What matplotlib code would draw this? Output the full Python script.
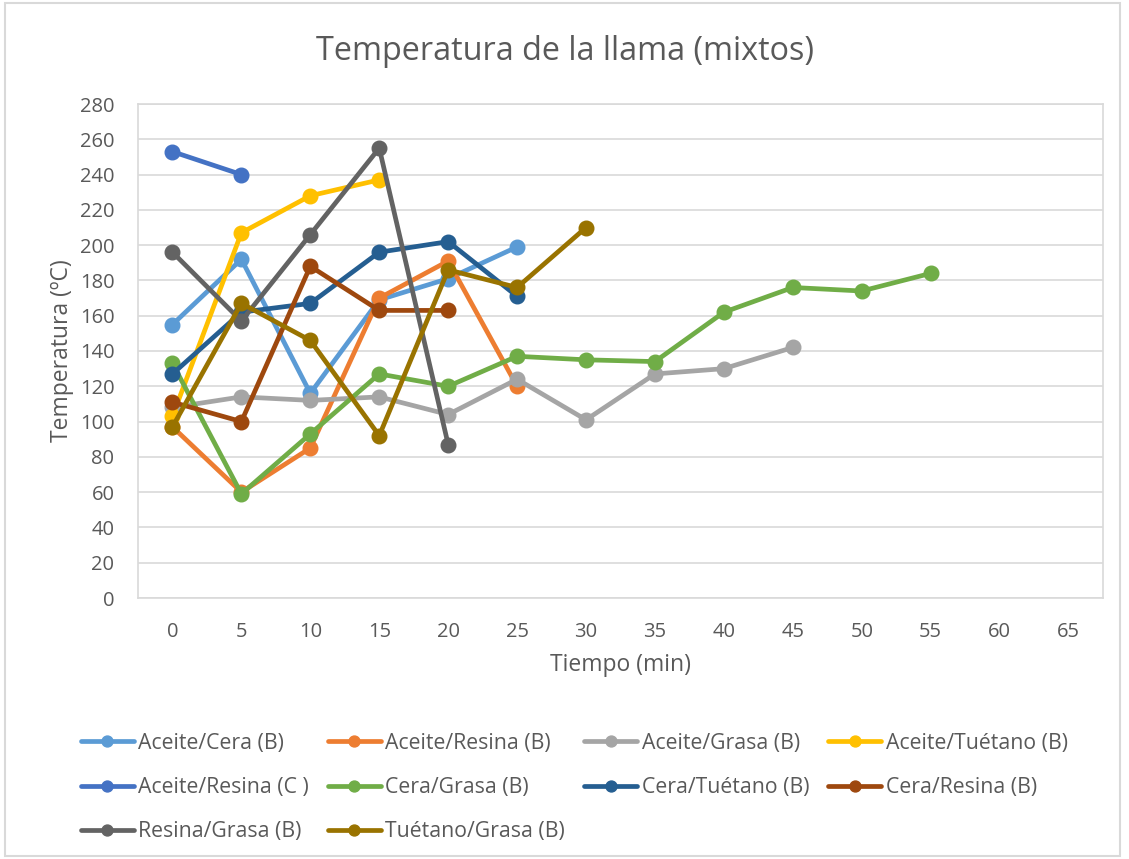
import numpy as np
import matplotlib
matplotlib.use('Agg')
import matplotlib.pyplot as plt
from matplotlib.patches import Rectangle

plt.rcParams['font.family'] = ['Open Sans', 'DejaVu Sans']

tiempo = [0, 5, 10, 15, 20, 25, 30, 35, 40, 45, 50, 55, 60, 65]

aceite_cera = [155, 192, 116, 169, 181, 199]
aceite_resina_b = [97, 60, 85, 170, 191, 120]
aceite_grasa = [108, 114, 112, 114, 104, 124, 101, 127, 130, 142]
aceite_tuetano = [103, 207, 228, 237]
aceite_resina_c = [253, 240]
cera_grasa = [133, 59, 93, 127, 120, 137, 135, 134, 162, 176, 174, 184]
cera_tuetano = [127, 162, 167, 196, 202, 171]
cera_resina = [111, 100, 188, 163, 163]
resina_grasa = [196, 157, 206, 255, 87]
tuetano_grasa = [97, 167, 146, 92, 186, 176, 210]

series = [
    ('Aceite/Cera (B)', aceite_cera, '#5B9BD5'),
    ('Aceite/Resina (B)', aceite_resina_b, '#ED7D31'),
    ('Aceite/Grasa (B)', aceite_grasa, '#A5A5A5'),
    ('Aceite/Tuétano (B)', aceite_tuetano, '#FFC000'),
    ('Aceite/Resina (C )', aceite_resina_c, '#4472C4'),
    ('Cera/Grasa (B)', cera_grasa, '#70AD47'),
    ('Cera/Tuétano (B)', cera_tuetano, '#255E91'),
    ('Cera/Resina (B)', cera_resina, '#9E480E'),
    ('Resina/Grasa (B)', resina_grasa, '#636363'),
    ('Tuétano/Grasa (B)', tuetano_grasa, '#997300'),
]

fig = plt.figure(figsize=(11.29, 8.59), dpi=100)
ax = fig.add_axes([138/1129, 1 - 598/859, (1103-138)/1129, (598-104)/859])

lines = []
for name, vals, col in series:
    l, = ax.plot(tiempo[:len(vals)], vals, color=col, lw=3.4, marker='o', ms=10.5,
                 label=name, solid_capstyle='round')
    lines.append(l)

ax.set_xlim(-2.5, 67.5)
ax.set_ylim(0, 280)
ax.set_yticks(np.arange(0, 281, 20))
ax.set_xticks(tiempo)
ax.grid(axis='y', color='#D9D9D9', lw=1.2)
ax.set_axisbelow(True)
for s in ax.spines.values():
    s.set_color('#D9D9D9')
    s.set_linewidth(1.2)
ax.tick_params(axis='both', length=0, labelsize=14.5, labelcolor='#595959')
ax.tick_params(axis='x', pad=17)
ax.tick_params(axis='y', pad=17)

ax.set_xlabel('Tiempo (min)', fontsize=16.5, color='#595959', labelpad=8)
ax.set_ylabel('Temperatura (ºC)', fontsize=16.5, color='#595959', labelpad=4)
fig.text(0.5, 1 - 52/859, 'Temperatura de la llama (mixtos)', ha='center', va='center',
         fontsize=23.3, color='#595959')

# legend filled row by row like Excel
orden = [0, 4, 8, 1, 5, 9, 2, 6, 3, 7]
fig.legend([lines[i] for i in orden], [series[i][0] for i in orden],
           loc='upper left', bbox_to_anchor=(70/1129, 1 - 722/859), ncol=4, frameon=False,
           fontsize=15.3, handlelength=2.5, handletextpad=0.2, columnspacing=0.9,
           labelspacing=1.1, labelcolor='#595959', markerscale=0.75, borderpad=0)

fig.patches.append(Rectangle((0.004, 0.003), 0.988, 0.993, transform=fig.transFigure,
                             fill=False, edgecolor='#D9D9D9', lw=1.5))

plt.savefig('out.png', dpi=100)
